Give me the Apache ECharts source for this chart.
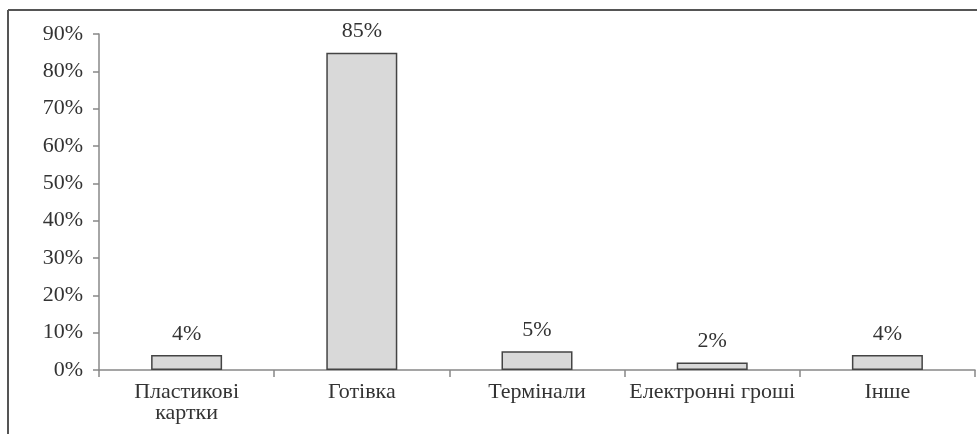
<!DOCTYPE html>
<html>
<head>
<meta charset="utf-8">
<script src="https://cdn.jsdelivr.net/npm/echarts@6/dist/echarts.min.js"></script>
<style>
html,body{margin:0;padding:0;background:#fff;}
#c{width:977px;height:434px;}
</style>
</head>
<body>
<div id="c"></div>
<script>
const categories = ["Пластикові\nкартки", "Готівка", "Термінали", "Електронні гроші", "Інше"];
const values = [4, 85, 5, 2, 4];
const yTicks = { min: 0, max: 90, interval: 10 };

const chart = echarts.init(document.getElementById('c'), null, { renderer: 'canvas' });
const font = '"Liberation Serif", "DejaVu Serif", serif';
chart.setOption({
  animation: false,
  backgroundColor: '#fff',
  grid: { left: 99, right: 2, top: 34, bottom: 64, containLabel: false },
  graphic: [
    { type: 'line', shape: { x1: 8, y1: 10, x2: 977, y2: 10 }, style: { stroke: '#555', lineWidth: 2 } },
    { type: 'line', shape: { x1: 8, y1: 10, x2: 8, y2: 434 }, style: { stroke: '#555', lineWidth: 2 } }
  ],
  xAxis: {
    type: 'category',
    data: categories,
    boundaryGap: true,
    axisLine: { lineStyle: { color: '#888', width: 1.5 } },
    axisTick: { show: true, length: 7, lineStyle: { color: '#888', width: 1.5 } },
    axisLabel: { interval: 0, color: '#333', fontFamily: font, fontSize: 22, margin: 12, lineHeight: 21 }
  },
  yAxis: {
    type: 'value',
    min: yTicks.min, max: yTicks.max, interval: yTicks.interval,
    axisLine: { show: true, lineStyle: { color: '#888', width: 1.5 } },
    axisTick: { show: true, length: 6, lineStyle: { color: '#888', width: 1.5 } },
    splitLine: { show: false },
    axisLabel: { color: '#333', fontFamily: font, fontSize: 22, margin: 16, formatter: '{value}%' }
  },
  series: [{
    type: 'bar',
    data: values,
    barWidth: 71,
    itemStyle: { color: '#d9d9d9', borderColor: '#444', borderWidth: 1.5 },
    label: { show: true, position: 'top', distance: 10, color: '#333', fontFamily: font, fontSize: 22, formatter: '{c}%' }
  }]
});
</script>
</body>
</html>
